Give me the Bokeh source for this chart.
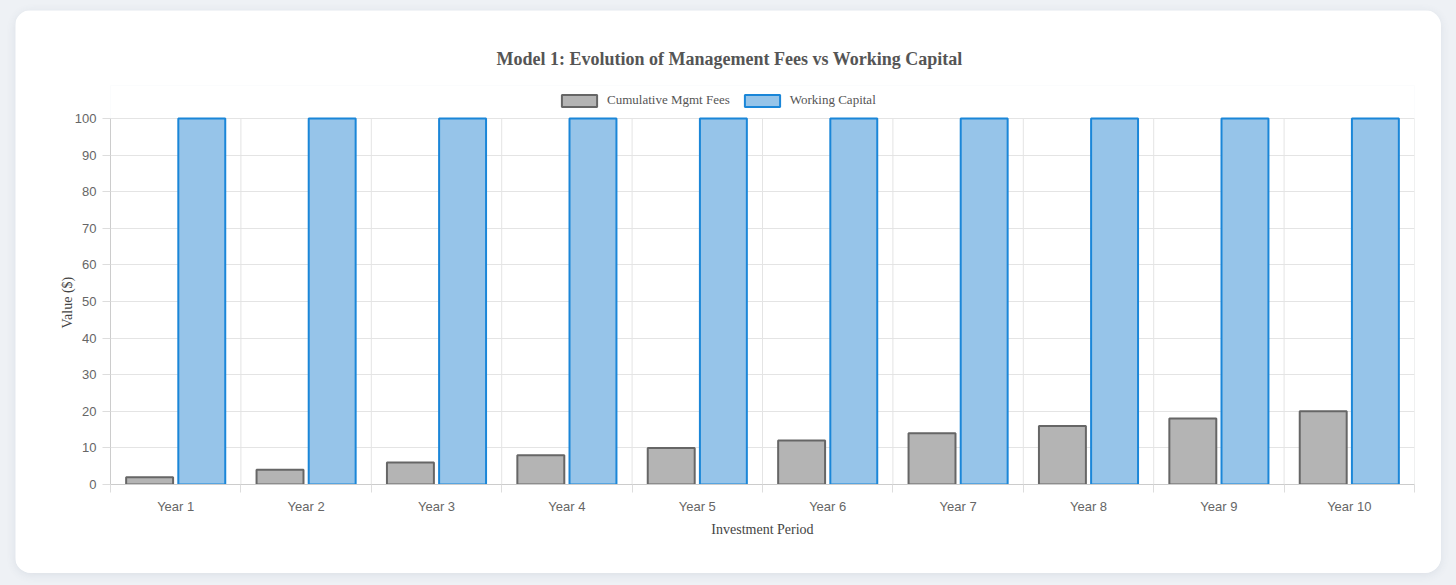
import numpy as np
from bokeh.plotting import figure
from bokeh.models import (ColumnDataSource, Range1d, FixedTicker, Legend, LegendItem, Column, Title)
from bokeh.transform import dodge
from bokeh.embed import file_html
from bokeh.resources import INLINE

# ---- data ----
years = ["Year 1", "Year 2", "Year 3", "Year 4", "Year 5",
         "Year 6", "Year 7", "Year 8", "Year 9", "Year 10"]
mgmt_fees = [2, 4, 6, 8, 10, 12, 14, 16, 18, 20]
working_capital = [100, 100, 100, 100, 100, 100, 100, 100, 100, 100]
y_ticks = [0, 10, 20, 30, 40, 50, 60, 70, 80, 90, 100]

title_text = "Model 1: Evolution of Management Fees vs Working Capital"
series_names = ["Cumulative Mgmt Fees", "Working Capital"]
x_title = "Investment Period"
y_title = "Value ($)"

n = len(years)
centers = [i + 0.5 for i in range(n)]
bounds_x = list(range(n + 1))
src = ColumnDataSource(dict(x=centers, fees=mgmt_fees, wc=working_capital, year=years))

SERIF = "Liberation Serif"
SANS = "Liberation Sans"

# layout geometry (pixels)
CARD_W, CARD_H = 1426, 563
TOP, BOTTOM, LEFT, RIGHT = 75, 89, 95, 27
PLOT_TOP = 108                      # where the value 100 sits
FRAME_H = CARD_H - TOP - BOTTOM
PLOT_H = CARD_H - PLOT_TOP - BOTTOM
FRAME_W = CARD_W - LEFT - RIGHT
y_min, y_max = y_ticks[0], y_ticks[-1]
y_end = y_min + (y_max - y_min) * FRAME_H / PLOT_H

p = figure(width=CARD_W, height=CARD_H, output_backend="svg", toolbar_location=None,
           x_range=Range1d(0, n), y_range=Range1d(y_min, y_end),
           min_border_left=LEFT, min_border_right=RIGHT, min_border_top=TOP,
           min_border_bottom=BOTTOM,
           background_fill_color="white", border_fill_color="white",
           outline_line_color=None, margin=(10, 15, 12, 15),
           styles={"border-radius": "16px", "overflow": "hidden",
                   "box-shadow": "0 2px 10px rgba(60,80,110,0.10)"})

# vertical category separators (grid) limited to the value range
p.xgrid.visible = False
p.segment(x0=bounds_x, x1=bounds_x, y0=[y_min] * len(bounds_x), y1=[y_max] * len(bounds_x),
          line_color="#e4e4e4", line_width=1)

r1 = p.vbar(x=dodge("x", -0.2), top="fees", width=0.36, source=src,
            fill_color="#b4b4b4", line_color="#666666", line_width=2)
r2 = p.vbar(x=dodge("x", 0.2), top="wc", width=0.36, source=src,
            fill_color="#96c4e9", line_color="#1a86d8", line_width=2)

# title (placed so that it is centred on the card, not on the frame)
p.title.text = title_text
p.title.align = "left"
p.title.text_font = SERIF
p.title.text_font_size = "18px"
p.title.text_font_style = "bold"
p.title.text_color = "#555555"
p.title.standoff = 33
p.title.offset = 386

# legend
legend = Legend(items=[LegendItem(label=series_names[0], renderers=[r1]),
                       LegendItem(label=series_names[1], renderers=[r2])],
                orientation="horizontal", location=(447, CARD_H - BOTTOM - 98),
                label_text_font=SERIF, label_text_font_size="13px", label_text_color="#555555",
                glyph_width=44, glyph_height=15, label_height=15, label_standoff=6,
                spacing=10, padding=0, margin=0,
                border_line_color=None, background_fill_alpha=0)
p.add_layout(legend, "center")

# x axis
xa = p.xaxis[0]
xa.ticker = FixedTicker(ticks=centers, minor_ticks=bounds_x)
xa.major_label_overrides = {c: y for c, y in zip(centers, years)}
xa.major_tick_out = 0
xa.major_tick_in = 0
xa.minor_tick_out = 8
xa.minor_tick_in = 0
xa.minor_tick_line_color = "#dddddd"
xa.axis_line_color = "#cccccc"
xa.major_label_text_font = SANS
xa.major_label_text_font_size = "13px"
xa.major_label_text_color = "#666666"
xa.major_label_standoff = 6
xa.axis_label = x_title
xa.axis_label_text_font = SERIF
xa.axis_label_text_font_size = "14px"
xa.axis_label_text_font_style = "normal"
xa.axis_label_text_color = "#444444"
xa.axis_label_standoff = 5

# y axis
ya = p.yaxis[0]
ya.ticker = FixedTicker(ticks=y_ticks)
ya.bounds = (y_min, y_max)
ya.major_tick_out = 8
ya.major_tick_in = 0
ya.major_tick_line_color = "#dddddd"
ya.minor_tick_line_color = None
ya.axis_line_color = "#cccccc"
ya.major_label_text_font = SANS
ya.major_label_text_font_size = "13px"
ya.major_label_text_color = "#666666"
ya.major_label_standoff = 6

# y axis title, centred on the 0..100 value span
ytitle = Title(text=y_title, align="left", text_font=SERIF, text_font_size="14px",
               text_font_style="normal", text_color="#444444", standoff=-6,
               offset=156)
p.add_layout(ytitle, "left")

p.ygrid.ticker = FixedTicker(ticks=y_ticks)
p.ygrid.grid_line_color = "#e4e4e4"

layout = Column(p, width=1456, height=585, styles={"background": "#eef1f5"})

html = file_html(layout, INLINE)
html = html.replace("<body>", '<body style="background:#eef1f5">', 1)
open("out.html", "w").write(html)
